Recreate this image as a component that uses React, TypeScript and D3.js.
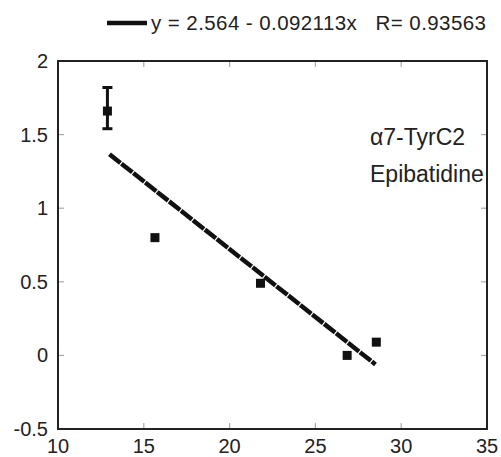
import React from "react";
import * as d3 from "d3";

const xValues = [12.88, 15.65, 21.8, 26.85, 28.55];
const yValues = [1.66, 0.8, 0.49, 0.0, 0.09];
const errLow = [1.54, null, null, null, null];
const errHigh = [1.82, null, null, null, null];
const fitIntercept = 2.564;
const fitSlope = -0.092113;
const fitRange = [13.0, 28.5];
const xTicks = [10, 15, 20, 25, 30, 35];
const yTicks = [-0.5, 0, 0.5, 1, 1.5, 2];
const legendText = "y = 2.564 - 0.092113x   R= 0.93563";
const annotation = ["\u03b17-TyrC2", "Epibatidine"];

export default function App() {
  const W = 501, H = 457;
  const left = 58, right = 487, top = 61, bottom = 429;
  const x = d3.scaleLinear().domain([10, 35]).range([left, right]);
  const y = d3.scaleLinear().domain([-0.5, 2]).range([bottom, top]);
  const font = "'Liberation Sans', Arial, Helvetica, sans-serif";
  const line = d3.line<number>().x((d) => x(d)).y((d) => y(fitIntercept + fitSlope * d));
  const ms = 9;
  return (
    <svg width={W} height={H} style={{ position: "absolute", left: 0, top: 0, background: "#fff" }}>
      <rect x={0} y={0} width={W} height={H} fill="#fff" />
      {/* legend */}
      <line x1={107} x2={147} y1={23} y2={23} stroke="#111" strokeWidth={4.5} />
      <text x={151} y={30} fontFamily={font} fontSize={20.5} textLength={335} fill="#222" style={{ whiteSpace: "pre" }}>
        {legendText}
      </text>
      {/* ticks */}
      {xTicks.slice(1, -1).map((t) => (
        <g key={"xt" + t}>
          <line x1={x(t)} x2={x(t)} y1={bottom} y2={bottom - 6} stroke="#aaa" strokeWidth={1.2} />
          <line x1={x(t)} x2={x(t)} y1={top} y2={top + 6} stroke="#aaa" strokeWidth={1.2} />
        </g>
      ))}
      {yTicks.slice(1, -1).map((t) => (
        <g key={"yt" + t}>
          <line x1={left} x2={left + 6} y1={y(t)} y2={y(t)} stroke="#aaa" strokeWidth={1.2} />
          <line x1={right} x2={right - 6} y1={y(t)} y2={y(t)} stroke="#aaa" strokeWidth={1.2} />
        </g>
      ))}
      {/* tick labels */}
      {xTicks.map((t) => (
        <text key={"xl" + t} x={x(t)} y={453} textAnchor="middle" fontFamily={font} fontSize={20} fill="#222">
          {t}
        </text>
      ))}
      {yTicks.map((t) => (
        <text key={"yl" + t} x={48} y={y(t) + 7} textAnchor="end" fontFamily={font} fontSize={20} fill="#222">
          {t}
        </text>
      ))}
      {/* frame */}
      <rect x={left} y={top} width={right - left} height={bottom - top} fill="none" stroke="#222" strokeWidth={2} />
      {/* fit line */}
      <path d={line(fitRange) || ""} stroke="#111" strokeWidth={4.5} strokeDasharray="14 1.2" fill="none" />
      {/* error bars */}
      {xValues.map((xv, i) =>
        errLow[i] != null ? (
          <g key={"e" + i} stroke="#111">
            <line x1={x(xv)} x2={x(xv)} y1={y(errLow[i] as number)} y2={y(errHigh[i] as number)} strokeWidth={3} />
            <line x1={x(xv) - 5} x2={x(xv) + 5} y1={y(errLow[i] as number)} y2={y(errLow[i] as number)} strokeWidth={3} />
            <line x1={x(xv) - 5} x2={x(xv) + 5} y1={y(errHigh[i] as number)} y2={y(errHigh[i] as number)} strokeWidth={3} />
          </g>
        ) : null
      )}
      {/* markers */}
      {xValues.map((xv, i) => (
        <rect key={"m" + i} x={x(xv) - ms / 2} y={y(yValues[i]) - ms / 2} width={ms} height={ms} fill="#111" />
      ))}
      {/* annotation */}
      <text x={370} y={145} fontFamily={font} fontSize={23} fill="#222">{annotation[0]}</text>
      <text x={370} y={182} fontFamily={font} fontSize={23} fill="#222">{annotation[1]}</text>
    </svg>
  );
}
